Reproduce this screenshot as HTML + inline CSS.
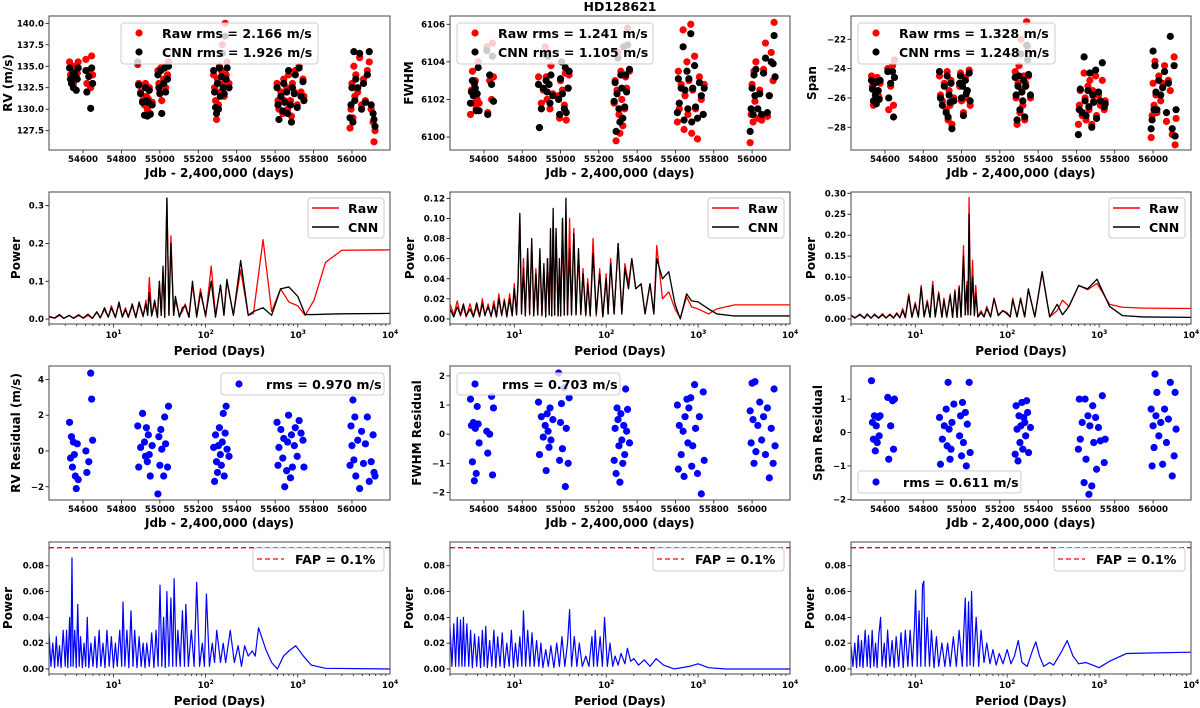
<!DOCTYPE html>
<html><head><meta charset="utf-8"><style>
html,body{margin:0;padding:0;background:#fff}
svg{display:block}
text{font-family:"DejaVu Sans","Liberation Sans",sans-serif;font-weight:bold;fill:#000}
</style></head><body>
<svg id="fig" width="1200" height="708" viewBox="0 0 1200 708" xmlns="http://www.w3.org/2000/svg">
<text x="620" y="11" text-anchor="middle" font-size="12.5">HD128621</text>
</svg>
<script>
// ---------- observation data ----------
const times = [54530,54535,54540,54545,54550,54555,54560,54565,54570,54575,54615,54620,54630,54640,54645,54650,
54885,54890,54900,54910,54920,54925,54930,54935,54940,54945,54950,54960,54990,54995,55000,55005,55010,55020,55025,55030,55040,55045,
55280,55285,55290,55295,55300,55305,55310,55315,55320,55325,55330,55335,55340,55345,55350,55360,
55610,55615,55620,55630,55640,55645,55650,55660,55665,55670,55680,55685,55690,55700,55705,55715,55725,55735,55745,55750,
55990,55995,56000,56005,56010,56015,56020,56030,56040,56050,56060,56070,56080,56090,56100,56110,56115,56120];
const rvRaw = [135.5,134,133.5,134.8,133,135,134.5,133.8,134.2,135.5,135.8,133,134.5,132.5,136.2,134,
135.2,133,132,131,130.5,133,131.5,130,131.2,132.5,129.5,130.8,134.5,133,132,134.8,131,133.5,135,132.5,134,135.5,
134,132.5,131,128.8,133.5,130.5,135,132,134.5,137.5,133,131.5,140,134,135.5,133,
133,131,130,132,129.5,133.5,131,132.5,130,134,131,129.2,133,132,134.5,130.5,135,132,133.5,131.5,
127.8,130,133,129,135,131.5,134,132,136,130.5,133.5,131,134.5,135.5,130,128.5,126.2,127.5];
const rvCnn = [134.8,133.5,133,134,132.5,134.2,133.8,132.2,133.5,134.8,134.5,132,133.8,130.1,134.8,133,
135.5,132.8,131.8,130.8,129.3,132.5,131,129.2,130.8,132.2,129.4,130.5,134,132.5,131.8,134.5,129.5,133,134.8,132,133.5,135,
134.5,132,130.2,129.5,133,130,134.8,131.5,133.8,136.5,132.5,131.8,138.5,133.5,134.8,132.5,
132.5,130.5,128.8,131.5,129.8,133,130.8,132,129.5,134.5,130.5,128.5,132.5,131.8,134,130.2,134.8,131.5,133.2,131,
129,130.5,132.5,128.5,136.7,131,133.5,132.5,136.5,130,133,130.8,134,136.7,130.5,129.5,128.8,128];
const rvRes = [1.6,-0.4,0.8,-0.9,0.5,-0.2,-1.4,-2.1,0.4,-1.6,0,-1.2,-0.6,4.35,2.9,0.6,
1.4,-0.9,0.2,2.1,0.5,-0.3,1.3,-0.6,0.9,-0.2,-1.4,0.3,-2.4,0.8,-0.8,1.2,0.1,-1.4,1.9,0.4,-0.9,2.5,
0.2,-1.7,0.9,-0.6,-1.2,0.3,1.3,-0.2,-0.8,0.5,2.1,-1.4,1,2.5,0.1,-0.3,
1.6,-0.8,0.2,1.2,-0.4,0.7,-2,-1.1,0.5,2,-1.5,0.9,-0.9,0.3,1.3,-0.3,1.7,1,0.6,-0.9,
-0.8,1.4,0.3,2.85,-0.5,1.9,-1.4,0.6,-2.1,1.1,-0.7,0.4,1.9,-1.7,-0.6,0.9,-1.2,-1.4];
const fwRaw = [6101.2,6102.5,6103.5,6101.8,6102.8,6103,6101.5,6102,6104,6101.8,6104.8,6101.3,6103,6102,6105,6103.2,
6103.2,6100.5,6101.8,6102.5,6104.8,6103.2,6102,6104.5,6102.8,6101.5,6103.8,6102.3,6102.2,6101,6103,6104,6102.5,6101.7,6103.4,6100.9,6102.6,6103.3,
6101.8,6103,6099.8,6102.5,6104.5,6101.2,6100.2,6103.5,6102,6100.6,6104.8,6101.5,6103.2,6102.6,6105.8,6103.5,
6100.8,6103.5,6101.5,6102.8,6105.7,6100.4,6102.2,6104,6101.2,6103,6106,6100.2,6102.5,6104.3,6101.5,6099.9,6103.2,6102,6101.2,6102.8,
6099.7,6101.2,6102.8,6100.8,6103.5,6101.9,6104,6101,6102.5,6100.9,6103.6,6105,6101.1,6102.2,6104.5,6103,6106.1,6103.2];
const fwCnn = [6101.8,6102.4,6103,6102.2,6102.9,6102.6,6101.4,6102.3,6103.7,6101.4,6104.6,6101.2,6103.3,6102.8,6104.3,6101.9,
6102.8,6100.5,6101.5,6102.6,6104.4,6103,6102.4,6104.3,6102.8,6101.8,6103.3,6102.2,6102,6101.2,6103.1,6104,6102.3,6101.5,6103.7,6101.3,6102.6,6103.5,
6101.9,6102.9,6100.3,6102.3,6104.2,6101.5,6100.8,6103.3,6102.6,6101,6104.8,6101.6,6103.3,6102.4,6104.9,6103.6,
6101.3,6103.1,6101.8,6102.6,6104.8,6100.9,6102.5,6103.5,6101.5,6103.1,6105.5,6100.8,6102.6,6103.8,6101.6,6101,6102.9,6102.2,6101.2,6102.6,
6100.3,6101.5,6102.6,6101.2,6103.3,6102.2,6103.6,6101.5,6102.3,6101.2,6103.4,6104.2,6101.3,6102.2,6104,6103.9,6105.4,6103.2];
const fwRes = [1.2,0.3,-0.95,0.4,-1.6,0.2,-1.35,0.95,0.35,-0.3,0.1,-0.65,0,1.3,-1.4,0.9,
1.1,-0.7,0.6,-0.1,0.3,-1.25,0.7,0.1,-0.45,0.9,-0.2,0.5,2.1,-0.9,0.4,1.05,-0.5,1.6,-1.8,0.2,-1,1.25,
-0.9,0.2,-1.35,0.9,0.5,-0.4,-1.65,0.7,-0.2,-1,0.3,-0.7,1.55,0.1,0.85,-0.3,
1,-1.2,0.3,-0.7,0.1,-1.45,0.6,1.2,-0.3,0.9,1.25,-1.1,-0.4,1.7,0.2,-1.35,0.6,-2.05,1.45,-0.9,
0.8,-0.3,1.75,0.5,-1,1.8,-0.6,0.3,1.1,-0.2,0.6,-0.7,0.9,-1.5,0.2,-1,1.55,-0.4];
const spRaw = [-24.5,-25.2,-26.5,-24.8,-25.5,-26.2,-24.6,-25.8,-26,-25,-24,-26.8,-25.2,-23.8,-26.5,-23.4,
-24.5,-25.8,-26.2,-25,-26.8,-24.2,-27.5,-25.5,-26.5,-24.8,-27.8,-26,-25.2,-24.3,-26.2,-25,-27,-24.6,-26,-25.5,-24.1,-26.5,
-24.2,-26,-27.8,-25,-23.8,-27,-22,-25.5,-26.5,-24.5,-27.5,-25,-20.8,-22.5,-24.5,-26,
-27.8,-26.5,-25.5,-27.2,-24.3,-26,-27.5,-25.2,-26.8,-24.8,-27.8,-25.5,-26.2,-24.5,-27.2,-25.8,-26.5,-24.8,-26.8,-26.2,
-28.7,-27.2,-25,-26.5,-23.5,-25.8,-27,-24.5,-26.2,-25,-23.8,-27.6,-24.8,-25.5,-28.5,-23.2,-29.2,-27.4];
const spCnn = [-24.8,-25.4,-26.2,-25,-25.8,-26.4,-24.9,-25.5,-26.1,-24.8,-24.2,-26,-25,-24.2,-27.3,-24.6,
-24.2,-26,-26.5,-25.2,-27,-24.5,-27.3,-25.8,-26.3,-25,-28.1,-26.2,-25,-24.5,-26,-25.2,-27.2,-24.8,-25.7,-25.5,-24.3,-26.2,
-24.6,-25.8,-27.5,-25.2,-24.5,-26.8,-23,-25.6,-26.2,-24.8,-27.3,-25.2,-22.4,-23.4,-24.4,-25.8,
-28.5,-26.8,-25.4,-27,-23.2,-26.2,-27.2,-25.5,-26.6,-24.3,-28,-25.8,-26.3,-24.1,-27.4,-25.6,-26.2,-23.6,-26.6,-26.4,
-28.1,-27.5,-22.8,-26.8,-23.8,-25.6,-26.8,-24.8,-25.8,-25.3,-24.2,-27,-25,-21.8,-28.1,-23.8,-28.6,-26.8];
const spRes = [1.55,0.3,-0.2,0.5,-0.55,0.2,-0.3,0.45,-0.1,0.5,1.05,-0.8,0.2,0.95,-0.5,1,
0.45,-0.95,-0.2,0.2,0.7,-0.4,1.5,0.1,-0.8,-0.5,0.3,0.85,-0.1,0.5,-0.7,0.9,-0.3,0.6,-1,0.25,1.5,-0.6,
-0.65,0.8,0.1,-0.85,0.5,-0.3,0.2,0.9,-0.5,0.45,0.3,-0.1,0.95,0.6,-0.6,0.15,
-0.5,1,-0.2,0.3,-1.5,1,-0.8,0.5,-1.85,0.2,-1.6,0.8,-0.3,0.45,-1.1,0.15,-0.25,1.1,-0.9,-0.2,
0.7,-1,0.2,-0.45,1.75,0.5,1.2,-0.1,0.3,-0.95,0.7,-0.3,0.4,1.5,-1.3,-0.7,1.2,0.1];

// ---------- periodograms (raw / cnn) ----------
const rvPer = [2,2.3,2.6,2.9,3.3,3.7,4.2,4.7,5.3,5.9,6.6,7.2,8,8.8,9.5,10.5,11.5,12.5,13.5,14.5,16,17.5,19,21,22.5,23.5,24.5,26,28,30,31.5,33,34.5,36,38,40,42,45,47,52,56,60,66,72,80,88,100,115,128,145,158,170,200,240,290,330,420,520,650,800,1000,1200,1500,2000,3000,10000];
const rvPowRaw = [.008,.002,.01,.002,.009,.003,.012,.002,.01,.002,.02,.004,.025,.005,.035,.005,.04,.006,.03,.004,.035,.005,.04,.006,.05,.01,.11,.01,.04,.005,.1,.01,.12,.005,.32,.01,.22,.01,.05,.01,.02,.04,.005,.09,.01,.08,.005,.14,.01,.09,.01,.1,.01,.13,.01,.015,.21,.02,.08,.045,.035,.01,.05,.15,.182,.183];
const rvPowCnn = [.006,.003,.012,.002,.01,.002,.01,.003,.013,.002,.018,.003,.03,.005,.03,.004,.045,.005,.025,.006,.04,.004,.045,.008,.04,.01,.07,.008,.05,.004,.1,.01,.14,.005,.32,.01,.2,.01,.06,.005,.03,.035,.005,.1,.005,.07,.01,.1,.005,.09,.01,.105,.01,.155,.01,.02,.03,.01,.08,.085,.06,.012,.012,.013,.014,.015];
const fwPer = [2,2.2,2.4,2.6,2.8,3,3.3,3.6,3.9,4.2,4.5,4.8,5.2,5.6,6,6.4,6.8,7.3,7.8,8.3,8.9,9.5,10,10.6,11,11.5,12,12.6,13.2,14,14.7,15.5,16.3,17.2,18,19,20,21,22,23,24,24.8,25.6,26.5,27.5,28.5,30,31,32,33.5,35,36.5,38,40,42,44.5,47,50,53,56,60,63,67,72,78,85,92,100,105,112,122,135,148,160,175,190,210,240,265,300,330,355,410,480,560,640,750,850,1000,1300,1600,2500,10000];
const fwPowRaw = [.015,.004,.018,.003,.012,.002,.015,.003,.012,.002,.02,.003,.015,.002,.018,.003,.025,.003,.02,.003,.025,.004,.035,.005,.04,.1,.005,.06,.005,.065,.004,.075,.004,.05,.004,.06,.003,.05,.004,.06,.004,.08,.003,.1,.004,.085,.003,.05,.004,.1,.004,.1,.004,.1,.005,.09,.005,.065,.004,.05,.003,.04,.003,.08,.003,.05,.003,.045,.005,.06,.005,.075,.005,.055,.035,.06,.03,.035,.005,.035,.005,.073,.02,.027,.01,.001,.022,.012,.01,.005,.01,.014,.014];
const fwPowCnn = [.01,.002,.012,.004,.015,.003,.01,.002,.016,.003,.015,.004,.012,.003,.014,.002,.02,.004,.018,.002,.02,.003,.03,.004,.035,.105,.005,.05,.003,.07,.005,.08,.003,.045,.004,.07,.004,.055,.002,.06,.004,.09,.003,.11,.004,.09,.003,.06,.003,.1,.004,.12,.004,.07,.004,.085,.004,.07,.005,.045,.004,.035,.003,.065,.005,.045,.002,.04,.005,.055,.005,.075,.005,.05,.03,.06,.03,.035,.005,.035,.005,.06,.04,.047,.015,.0,.025,.018,.017,.01,.005,.003,.003];
const spPer = [2,2.2,2.5,2.8,3,3.3,3.6,4,4.4,4.8,5.3,5.8,6.3,6.8,7.3,7.8,8.5,9.2,10,10.8,11.6,12.5,13.5,14.5,15.5,16.5,18,19.5,20.5,22,24,25.5,27,28.5,30,31.5,33.5,35,36.5,37.5,38.5,40,42,44,45.5,48,52,56,60,66,72,80,90,100,108,115,128,140,155,170,200,240,290,350,400,470,600,750,950,1300,1800,3000,10000];
const spPowRaw = [.01,.002,.012,.002,.01,.002,.012,.003,.013,.002,.012,.003,.015,.003,.025,.004,.06,.005,.04,.004,.08,.006,.045,.005,.09,.005,.065,.005,.05,.004,.06,.004,.07,.004,.08,.005,.175,.01,.09,.01,.29,.01,.14,.01,.08,.005,.02,.005,.03,.005,.05,.01,.02,.015,.005,.05,.005,.05,.005,.07,.005,.11,.005,.02,.045,.03,.08,.07,.085,.035,.028,.026,.025];
const spPowCnn = [.008,.003,.01,.002,.012,.002,.01,.002,.01,.003,.01,.002,.013,.003,.02,.003,.055,.004,.035,.005,.075,.005,.04,.004,.08,.005,.06,.004,.045,.005,.055,.004,.065,.004,.075,.005,.15,.01,.08,.01,.25,.01,.1,.008,.06,.005,.015,.005,.025,.005,.048,.008,.02,.012,.005,.045,.005,.048,.005,.072,.005,.113,.005,.035,.01,.03,.08,.072,.095,.03,.008,.005,.004];

// ---------- residual periodograms ----------
const rvResPer = [2,2.1,2.2,2.3,2.4,2.5,2.6,2.7,2.85,3,3.1,3.2,3.35,3.45,3.55,3.65,3.8,3.95,4.1,4.25,4.4,4.6,4.8,5,5.2,5.4,5.7,6,6.3,6.6,7,7.3,7.7,8.1,8.5,9,9.5,10,10.5,11,11.7,12.3,12.7,13.3,14,14.7,15.5,16.3,17,18,19,20,21,22,23,24.5,26,27.5,29,30.5,32,33.5,35,36.5,38,40,42,44,45.5,48,50,53,56,59,61,65,70,75,80,86,92,97,102,110,118,125,132,145,155,165,185,205,225,245,265,290,320,345,375,450,520,600,700,800,950,1150,1400,2000,10000];
const rvResPow = [.028,.002,.02,.001,.025,.002,.018,.001,.03,.002,.03,.001,.04,.002,.086,.002,.03,.001,.05,.002,.025,.001,.02,.002,.04,.001,.02,.002,.025,.001,.03,.002,.02,.001,.03,.002,.025,.001,.02,.002,.03,.002,.052,.002,.03,.001,.045,.002,.03,.001,.025,.002,.02,.001,.02,.002,.028,.001,.03,.002,.065,.002,.04,.001,.06,.002,.055,.002,.07,.002,.03,.002,.045,.002,.05,.002,.03,.002,.067,.002,.02,.002,.058,.002,.02,.005,.03,.005,.02,.005,.03,.005,.018,.002,.018,.01,.014,.01,.032,.015,.005,.0,.01,.014,.018,.01,.003,.0005,.0];
const fwResPer = [2,2.1,2.2,2.3,2.4,2.5,2.6,2.7,2.8,2.9,3.05,3.2,3.35,3.5,3.7,3.9,4.1,4.3,4.5,4.7,4.9,5.1,5.4,5.7,6,6.3,6.6,7,7.4,7.8,8.3,8.8,9.3,9.8,10.3,10.9,11.5,12.1,12.6,13.3,14,14.8,15.6,16.5,17.5,18.5,19.5,20.5,22,23.5,25,27,29,31,33,35.5,38,40,42,45,48,51,55,60,65,70,73,76,80,86,91,96,103,110,118,125,135,145,160,170,185,200,225,260,300,350,420,550,800,1000,1300,2000,10000];
const fwResPow = [.033,.002,.035,.002,.04,.002,.038,.002,.04,.002,.035,.002,.03,.001,.027,.002,.025,.001,.03,.002,.033,.001,.022,.002,.03,.001,.025,.002,.028,.001,.02,.002,.03,.001,.02,.002,.025,.002,.045,.002,.03,.002,.028,.002,.022,.002,.02,.001,.015,.002,.018,.001,.02,.002,.025,.002,.02,.046,.002,.025,.002,.02,.002,.01,.002,.025,.002,.03,.002,.025,.002,.04,.002,.02,.002,.01,.003,.012,.004,.016,.006,.008,.003,.007,.002,.008,.003,.0,.002,.004,.001,.0,.0];
const spResPer = [2,2.1,2.2,2.3,2.4,2.5,2.6,2.7,2.85,3,3.1,3.25,3.4,3.55,3.7,3.85,4,4.2,4.35,4.6,4.8,5,5.3,5.6,5.9,6.2,6.6,7,7.4,7.8,8.3,8.8,9.3,9.8,10.1,10.5,11,11.5,12,12.4,12.8,13.5,14.3,15,16,17,18,19.5,21,22.5,24,26,28,30,32.5,35,36.5,38,39.5,41,43,46,49,52,56,60,65,70,76,82,90,100,110,120,132,145,165,190,205,225,250,290,320,380,450,520,600,720,850,1000,1300,2000,10000];
const spResPow = [.018,.002,.02,.001,.026,.002,.022,.001,.03,.002,.026,.001,.03,.002,.02,.001,.025,.04,.002,.02,.001,.03,.002,.022,.001,.025,.002,.028,.001,.03,.002,.03,.002,.033,.061,.002,.045,.002,.065,.068,.002,.04,.002,.03,.001,.025,.002,.02,.002,.02,.002,.025,.002,.03,.002,.055,.002,.052,.003,.06,.002,.04,.002,.03,.005,.02,.004,.015,.003,.012,.004,.015,.004,.01,.022,.005,.002,.015,.021,.01,.002,.005,.003,.012,.022,.01,.004,.005,.003,.001,.006,.012,.013];
const fapLevel = 0.094;

// ---------- tick labels ----------
const timeTicks = [54600,54800,55000,55200,55400,55600,55800,56000];
const logTicks = [1,2,3,4];
const rvTicks = [127.5,130,132.5,135,137.5,140];
const fwTicks = [6100,6102,6104,6106];
const spTicks = [-28,-26,-24,-22];
const pRvTicks = [0,0.1,0.2,0.3];
const pFwTicks = [0,0.02,0.04,0.06,0.08,0.1,0.12];
const pSpTicks = [0,0.05,0.1,0.15,0.2,0.25,0.3];
const resRvTicks = [-2,0,2,4];
const resFwTicks = [-2,-1,0,1,2];
const resSpTicks = [-2,-1,0,1];
const resPowTicks = [0,0.02,0.04,0.06,0.08];

const NS = 'http://www.w3.org/2000/svg';
const svg = document.getElementById('fig');
function mk(tag, attrs, parent){ const e=document.createElementNS(NS,tag); for(const k in attrs) e.setAttribute(k,attrs[k]); parent.appendChild(e); return e; }

const colX=[49,450,851], colW=[341,340,340];
const rowY=[16,192,366,542], rowH=[134,132,134,132];
const TMIN=54423, TMAX=56198, LMIN=Math.log10(2), LMAX=4;
const TICKFS=8.6, LABFS=12, LEGFS=12.6;

function fmtTick(v, dec){ const s=v.toFixed(dec); return s.replace('-','\u2212'); }

function panel(col,row,name,ydom,yticks,ydec,xtype,ylabel,ylabX){
  const x0=colX[col], w=colW[col], y0=rowY[row], h=rowH[row];
  const g=mk('g',{},svg);
  
  
  const sx = xtype==='time' ? (t=>x0+(t-TMIN)/(TMAX-TMIN)*w) : (p=>x0+(Math.log10(p)-LMIN)/(LMAX-LMIN)*w);
  const sy = v=>y0+h-(v-ydom[0])/(ydom[1]-ydom[0])*h;
  const clipId='clip-'+name;
  const cp=mk('clipPath',{id:clipId},g);
  mk('rect',{x:x0,y:y0,width:w,height:h},cp);
  const plot=mk('g',{'clip-path':'url(#'+clipId+')'},g);
  
  
  yticks.forEach(v=>{
    const yy=sy(v);
    mk('line',{x1:x0-3.5,x2:x0,y1:yy,y2:yy,stroke:'#000','stroke-width':0.8},g);
    const t=mk('text',{x:x0-5,y:yy+3,'text-anchor':'end','font-size':TICKFS},g);
    
    
    t.textContent=fmtTick(v,ydec);
  });
  if(xtype==='time'){
    timeTicks.forEach(v=>{
      const xx=sx(v);
      mk('line',{x1:xx,x2:xx,y1:y0+h,y2:y0+h+3.5,stroke:'#000','stroke-width':0.8},g);
      const t=mk('text',{x:xx,y:y0+h+12,'text-anchor':'middle','font-size':TICKFS},g);
      
      
      t.textContent=String(v);
    });
  } else {
    for(let d=0; d<4; d++){
      for(let m=1;m<10;m++){
        const p=m*Math.pow(10,d); if(p<2) continue;
        const xx=sx(p);
        mk('line',{x1:xx,x2:xx,y1:y0+h,y2:y0+h+(m===1?3.5:2),stroke:'#000','stroke-width':0.7},g);
      }
    }
    logTicks.forEach(e=>{
      const xx=sx(Math.pow(10,e));
      const t=mk('text',{x:xx-2,y:y0+h+14,'text-anchor':'middle','font-size':TICKFS},g);
      
      
      t.textContent='10';
      const s=mk('text',{x:xx+4,y:y0+h+10,'text-anchor':'start','font-size':6,'font-weight':'normal'},g);
      
      
      s.textContent=String(e);
    });
  }
  const fr=mk('rect',{x:x0,y:y0,width:w,height:h,fill:'none',stroke:'#444','stroke-width':1},g);
  
  
  const xl=mk('text',{x:x0+w/2,y:xtype==='time'?y0+h+27:y0+h+31,'text-anchor':'middle','font-size':LABFS},g);
  
  
  xl.textContent = xtype==='time' ? 'Jdb - 2,400,000 (days)' : 'Period (Days)';
  const yl=mk('text',{x:ylabX,y:y0+h/2,'text-anchor':'middle','font-size':LABFS,transform:'rotate(-90 '+ylabX+' '+(y0+h/2)+')'},g);
  
  
  yl.textContent=ylabel;
  return {g,plot,sx,sy,x0,y0,w,h};
}

function scatter(P, xs, ys, color, r, name){
  xs.forEach((t,i)=>{
    const c=mk('circle',{cx:P.sx(t),cy:P.sy(ys[i]),r:r,fill:color},P.plot);
    
    
  });
}
function line(P, xs, ys, color, name, width){
  const d=xs.map((p,i)=>(i?'L':'M')+P.sx(p).toFixed(2)+' '+P.sy(ys[i]).toFixed(2)).join(' ');
  const e=mk('path',{d:d,fill:'none',stroke:color,'stroke-width':width||1.3,'stroke-linejoin':'round'},P.plot);
  
  
}
function legendBox(P, x, y, w, h, name){
  const lg=mk('g',{},P.g);
  
  
  mk('rect',{x:x,y:y,width:w,height:h,rx:3,fill:'rgba(255,255,255,0.8)',stroke:'#ccc','stroke-width':1},lg);
  return lg;
}
function legendText(lg,x,y,str){
  const t=mk('text',{x:x,y:y,'font-size':LEGFS},lg);
  
  
  t.textContent=str;
}

// ---------- row 1 ----------
const ts=[
  {col:0,name:'rv-timeseries',dom:[125.25,140.85],ticks:rvTicks,dec:1,raw:rvRaw,cnn:rvCnn,lab:'RV (m/s)',lx:12,leg:['Raw rms = 2.166 m/s','CNN rms = 1.926 m/s'],lgx:121,lgw:197},
  {col:1,name:'fwhm-timeseries',dom:[6099.31,6106.44],ticks:fwTicks,dec:0,raw:fwRaw,cnn:fwCnn,lab:'FWHM',lx:413,leg:['Raw rms = 1.241 m/s','CNN rms = 1.105 m/s'],lgx:457,lgw:196},
  {col:2,name:'span-timeseries',dom:[-29.55,-20.41],ticks:spTicks,dec:0,raw:spRaw,cnn:spCnn,lab:'Span',lx:816,leg:['Raw rms = 1.328 m/s','CNN rms = 1.248 m/s'],lgx:858,lgw:197}
];
ts.forEach(c=>{
  const P=panel(c.col,0,c.name,c.dom,c.ticks,c.dec,'time',c.lab,c.lx);
  scatter(P,times,c.raw,'#ff0000',3.6,'raw-point');
  scatter(P,times,c.cnn,'#000000',3.6,'cnn-point');
  const lg=legendBox(P,c.lgx,23,c.lgw,41,c.name+'-legend');
  mk('circle',{cx:c.lgx+18,cy:33,r:3.6,fill:'#ff0000'},lg);
  mk('circle',{cx:c.lgx+18,cy:52,r:3.6,fill:'#000'},lg);
  legendText(lg,c.lgx+41,38,c.leg[0]);
  legendText(lg,c.lgx+41,57,c.leg[1]);
});

// ---------- row 2 ----------
const pg=[
  {col:0,name:'rv-periodogram',dom:[-0.013,0.336],ticks:pRvTicks,dec:1,per:rvPer,raw:rvPowRaw,cnn:rvPowCnn,lx:20},
  {col:1,name:'fwhm-periodogram',dom:[-0.005,0.1263],ticks:pFwTicks,dec:2,per:fwPer,raw:fwPowRaw,cnn:fwPowCnn,lx:414},
  {col:2,name:'span-periodogram',dom:[-0.0119,0.303],ticks:pSpTicks,dec:2,per:spPer,raw:spPowRaw,cnn:spPowCnn,lx:815}
];
pg.forEach(c=>{
  const P=panel(c.col,1,c.name,c.dom,c.ticks,c.dec,'log','Power',c.lx);
  line(P,c.per,c.raw,'#ff0000','raw-periodogram-line');
  line(P,c.per,c.cnn,'#000000','cnn-periodogram-line');
  const lx=P.x0+P.w-82;
  const lg=legendBox(P,lx,198,76,40,c.name+'-legend');
  mk('line',{x1:lx+4,x2:lx+31,y1:208,y2:208,stroke:'#f00','stroke-width':1.5},lg);
  mk('line',{x1:lx+4,x2:lx+31,y1:227,y2:227,stroke:'#000','stroke-width':1.5},lg);
  legendText(lg,lx+40,213,'Raw');
  legendText(lg,lx+40,232,'CNN');
});

// ---------- row 3 ----------
const rs=[
  {col:0,name:'rv-residuals',dom:[-2.74,4.75],ticks:resRvTicks,vals:rvRes,lab:'RV Residual (m/s)',lx:20,leg:'rms = 0.970 m/s',lgx:221,lgy:373},
  {col:1,name:'fwhm-residuals',dom:[-2.26,2.34],ticks:resFwTicks,vals:fwRes,lab:'FWHM Residual',lx:421,leg:'rms = 0.703 m/s',lgx:457,lgy:373},
  {col:2,name:'span-residuals',dom:[-2.02,1.99],ticks:resSpTicks,vals:spRes,lab:'Span Residual',lx:822,leg:'rms = 0.611 m/s',lgx:858,lgy:471}
];
rs.forEach(c=>{
  const P=panel(c.col,2,c.name,c.dom,c.ticks,0,'time',c.lab,c.lx);
  scatter(P,times,c.vals,'#0000ff',3.6,'residual-point');
  const lg=legendBox(P,c.lgx,c.lgy,163,22,c.name+'-legend');
  mk('circle',{cx:c.lgx+18,cy:c.lgy+11,r:3.6,fill:'#0000ff'},lg);
  legendText(lg,c.lgx+45,c.lgy+16,c.leg);
});

// ---------- row 4 ----------
const rp=[
  {col:0,name:'rv-residual-periodogram',per:rvResPer,pow:rvResPow,lx:12},
  {col:1,name:'fwhm-residual-periodogram',per:fwResPer,pow:fwResPow,lx:413},
  {col:2,name:'span-residual-periodogram',per:spResPer,pow:spResPow,lx:814}
];
rp.forEach(c=>{
  const P=panel(c.col,3,c.name,[-0.0039,0.0984],resPowTicks,2,'log','Power',c.lx);
  line(P,c.per,c.pow,'#0000ff','residual-periodogram-line',1.2);
  const fy=P.sy(fapLevel);
  const fl=mk('line',{x1:P.x0,x2:P.x0+P.w,y1:fy,y2:fy,stroke:'#ff0000','stroke-width':1.3,'stroke-dasharray':'5 3'},P.plot);
  
  
  const lx=P.x0+P.w-137;
  const lg=legendBox(P,lx,548,131,23,c.name+'-legend');
  mk('line',{x1:lx+4,x2:lx+31,y1:559,y2:559,stroke:'#f00','stroke-width':1.3,'stroke-dasharray':'5 3'},lg);
  legendText(lg,lx+42,564,'FAP =  0.1%');
});
</script>
</body></html>
